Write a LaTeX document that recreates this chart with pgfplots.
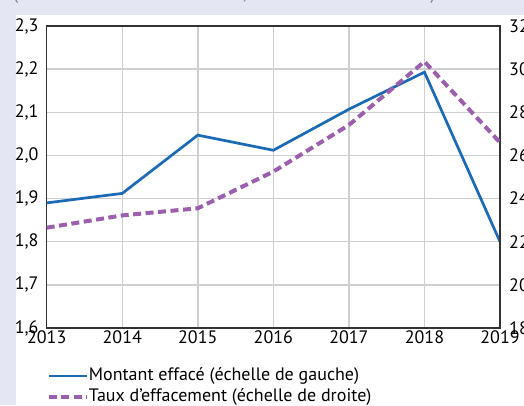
\documentclass[border=0pt]{standalone}
\usepackage{pgfplots}
\pgfplotsset{compat=1.18}
\usepackage{fontspec}
\setmainfont{PT Sans}
\definecolor{bgl}{HTML}{E4E7F3}
\definecolor{cblue}{HTML}{1B6AB4}
\definecolor{cpurple}{HTML}{9B5FAE}
\definecolor{cgrid}{HTML}{CFCFCF}
\definecolor{caxis}{HTML}{333333}
\begin{document}
\fontsize{18pt}{21pt}\selectfont
\begin{tikzpicture}
\useasboundingbox (0pt,0pt) rectangle (524pt,405pt);
\fill[bgl] (0pt,0pt) rectangle (524pt,405pt);
\fill[white] (16pt,0pt) rectangle (524pt,390pt);
\node[anchor=base west, inner sep=0pt, text=gray] at (13pt,405.3pt) {(montant en milliards d’euros ; taux d’effacement en \%)};
\pgfplotsset{
  base/.style={
    at={(46.7pt,77pt)}, anchor=south west,
    scale only axis, width=453.3pt, height=302pt,
    xmin=2013, xmax=2019,
    xtick={2013,2014,2015,2016,2017,2018,2019},
    major tick length=0pt,
    tick label style={font=\fontsize{18pt}{21pt}\selectfont},
    /pgf/number format/assume math mode=true,
    axis line style={draw=caxis, line width=1.3pt},
    clip=true,
  }
}
\begin{axis}[base,
  axis lines=box,
  ymin=1.6, ymax=2.3,
  ytick={1.6,1.7,1.8,1.9,2.0,2.1,2.2,2.3},
  yticklabel style={/pgf/number format/use comma, /pgf/number format/fixed, /pgf/number format/fixed zerofill, /pgf/number format/precision=1},
  yticklabel style={anchor=east, inner sep=0pt, xshift=-8pt},
  xticklabels={2013,2014,2015,2016,2017,2018,2019},
  xticklabel style={anchor=north, inner sep=0pt, yshift=-2pt},
  grid=major,
  major grid style={draw=cgrid, line width=1.4pt},
  axis on top=false,
]
\addplot[cblue, line width=2.7pt] coordinates {
 (2013,1.890) (2014,1.912) (2015,2.047) (2016,2.012) (2017,2.107) (2018,2.193) (2019,1.800)};
\end{axis}
\begin{axis}[base,
  axis x line=none,
  axis y line*=right,
  ymin=18, ymax=32,
  ytick={18,20,22,24,26,28,30,32},
  yticklabel style={anchor=west, inner sep=0pt, xshift=9pt},
  legend style={at={(0,-0.1937)}, anchor=west, draw=none, fill=none, inner sep=0pt,
    row sep=4pt, font=\fontsize{18pt}{21pt}\selectfont,
    nodes={inner sep=0pt, text height=13pt, text depth=4pt},
    /tikz/every even column/.append style={column sep=10pt}},
  legend cell align=left,
  legend image code/.code={\draw[#1] (0pt,0pt) -- (38pt,0pt);},
]
\addlegendimage{cblue, line width=2.7pt}
\addlegendentry{Montant effacé (échelle de gauche)}
\addplot[cpurple, line width=4pt, dash pattern=on 8pt off 4.5pt] coordinates {
 (2013,22.65) (2014,23.22) (2015,23.55) (2016,25.25) (2017,27.41) (2018,30.35) (2019,26.6)};
\addlegendentry{Taux d’effacement (échelle de droite)}
\end{axis}
\end{tikzpicture}
\end{document}
